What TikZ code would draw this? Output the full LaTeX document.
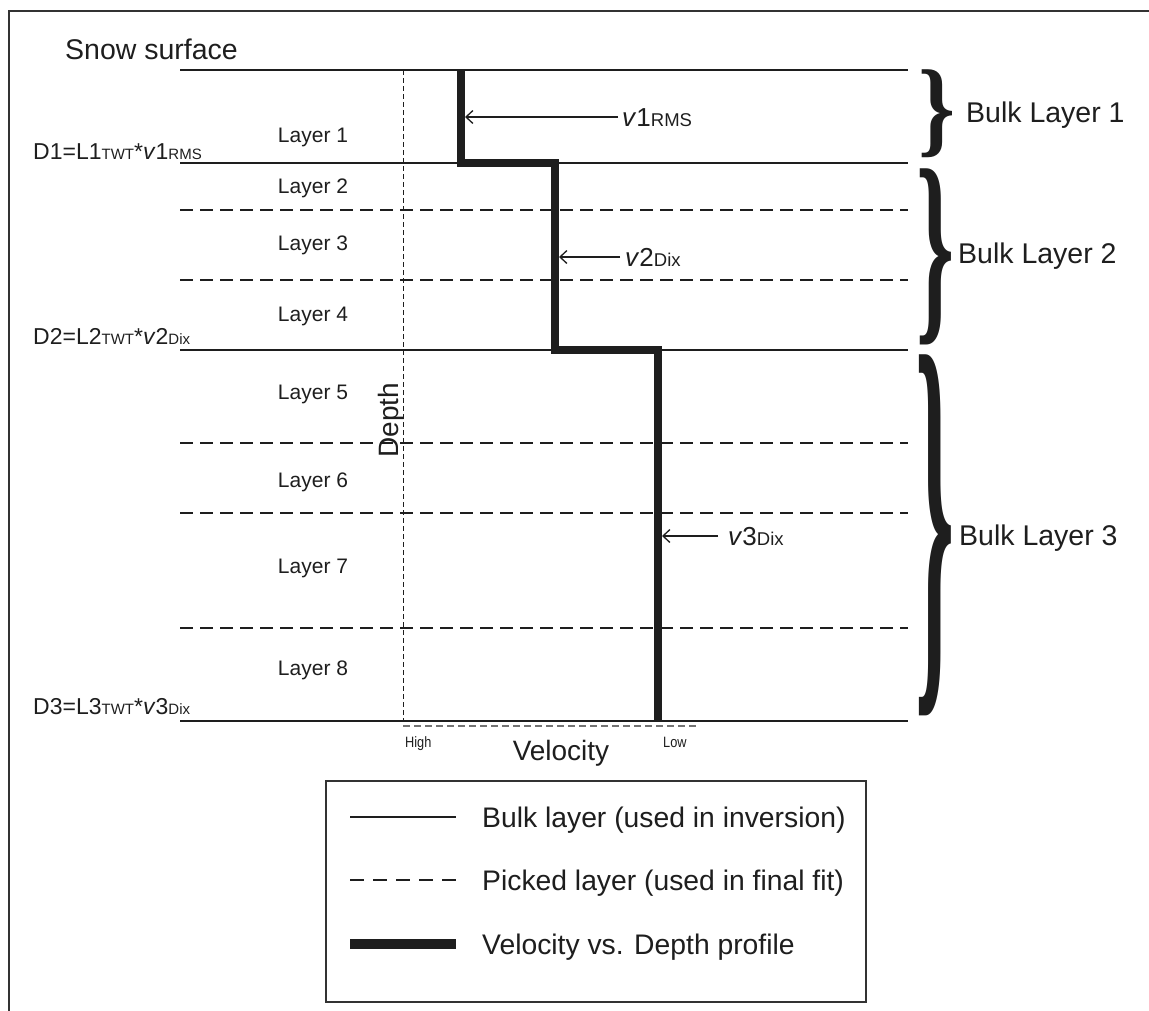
\documentclass[tikz,border=0pt]{standalone}
\usepackage{fontspec}
\setmainfont{Liberation Sans}
\newfontfamily\bracefont{Liberation Serif}
\usetikzlibrary{arrows.meta}
\newcommand\fsz[1]{\fontsize{#1}{#1}\selectfont}
\newcommand\sbt[1]{{\fsz{15}#1}}
\newcommand\bigbrace[2]{\resizebox*{#1}{#2}{\bracefont\bfseries\}}}
\definecolor{ink}{HTML}{1E1E1E}

\begin{document}
\begin{tikzpicture}[x=1pt,y=-1pt,
  every node/.style={text=ink},
  bulkline/.style={line width=2pt, draw=ink},
  pickline/.style={line width=2pt, draw=ink, dash pattern=on 13pt off 7pt},
  profile/.style={line width=8pt, draw=ink, miter limit=10},
  layerlbl/.style={inner sep=0pt, anchor=base, font=\fsz{21}},
  depthlbl/.style={inner sep=0pt, anchor=base west, font=\fsz{23}},
  vlbl/.style={inner sep=0pt, anchor=base west, font=\fsz{26}},
  bulklbl/.style={inner sep=0pt, anchor=base west, font=\fsz{28.5}},
  ptr/.style={line width=1.3pt, draw=ink, -{Straight Barb[length=7pt,width=13pt,line width=1.3pt]}},
  bracenode/.style={inner sep=0pt, anchor=west},
  legtext/.style={inner sep=0pt, anchor=base west, font=\fsz{28.3}},
]
\useasboundingbox (0,0) rectangle (1149,1010);

% frame (top and left edges)
\draw[line width=2pt, draw=black!80] (9,1012) -- (9,11) -- (1151,11);

% ---- layer boundaries ----
\coordinate (s0w) at (180,70);   \coordinate (s0e) at (908,70);
\coordinate (s1w) at (180,163);  \coordinate (s1e) at (908,163);
\coordinate (s2w) at (180,350);  \coordinate (s2e) at (908,350);
\coordinate (s3w) at (180,721);  \coordinate (s3e) at (908,721);
\coordinate (p1w) at (180,210);  \coordinate (p1e) at (908,210);
\coordinate (p2w) at (180,280);  \coordinate (p2e) at (908,280);
\coordinate (p3w) at (180,443);  \coordinate (p3e) at (908,443);
\coordinate (p4w) at (180,513);  \coordinate (p4e) at (908,513);
\coordinate (p5w) at (180,628);  \coordinate (p5e) at (908,628);

\draw[bulkline] (s0w) -- (s0e);
\draw[bulkline] (s1w) -- (s1e);
\draw[bulkline] (s2w) -- (s2e);
\draw[bulkline] (s3w) -- (s3e);
\draw[pickline] (p1w) -- (p1e);
\draw[pickline] (p2w) -- (p2e);
\draw[pickline] (p3w) -- (p3e);
\draw[pickline] (p4w) -- (p4e);
\draw[pickline] (p5w) -- (p5e);

% ---- axes ----
\coordinate (dtop) at (403,70);
\coordinate (dbot) at (403,721);
\draw[line width=1pt, draw=ink, dash pattern=on 5pt off 3pt] (dtop) -- (dbot);
\coordinate (vax0) at (403,726);
\coordinate (vax1) at (697,726);
\draw[line width=1.6pt, draw=black!55, dash pattern=on 7pt off 4pt] (vax0) -- (vax1);

\node[inner sep=0pt, rotate=90, font=\fsz{28}] (depth) at (391,420) {Depth};
\node[inner sep=0pt, anchor=base west, font=\fsz{15}] (high) at (405,747) {\scalebox{0.85}[1]{High}};
\node[inner sep=0pt, anchor=base west, font=\fsz{15}] (low) at (663,747) {\scalebox{0.85}[1]{Low}};
\node[inner sep=0pt, anchor=base, font=\fsz{28}] (vel) at (561,760) {Velocity};

% ---- velocity vs. depth profile ----
\coordinate (q0) at (461,70);
\coordinate (q1) at (461,163);
\coordinate (q2) at (555,163);
\coordinate (q3) at (555,350);
\coordinate (q4) at (658,350);
\coordinate (q5) at (658,721);
\draw[profile] (q0) -- (q1) -- (q2) -- (q3) -- (q4) -- (q5);

% ---- labels ----
\node[inner sep=0pt, anchor=base west, font=\fsz{28.5}] (snow) at (65,59) {Snow surface};

\node[layerlbl] (l1) at (313,142) {Layer 1};
\node[layerlbl] (l2) at (313,193) {Layer 2};
\node[layerlbl] (l3) at (313,250.5) {Layer 3};
\node[layerlbl] (l4) at (313,321) {Layer 4};
\node[layerlbl] (l5) at (313,399) {Layer 5};
\node[layerlbl] (l6) at (313,487.5) {Layer 6};
\node[layerlbl] (l7) at (313,573.5) {Layer 7};
\node[layerlbl] (l8) at (313,675.5) {Layer 8};

\node[depthlbl] (d1) at (33,159) {D1=L1\sbt{TWT}*\textit{v}1\sbt{RMS}};
\node[depthlbl] (d2) at (33,344) {D2=L2\sbt{TWT}*\textit{v}2\sbt{Dix}};
\node[depthlbl] (d3) at (33,714) {D3=L3\sbt{TWT}*\textit{v}3\sbt{Dix}};

% velocity pointers
\node[vlbl] (v1) at (622,126) {\textit{v}1{\fsz{18.5}RMS}};
\node[vlbl] (v2) at (625,266) {\textit{v}2{\fsz{18.5}Dix}};
\node[vlbl] (v3) at (728,545) {\textit{v}3{\fsz{18.5}Dix}};
\coordinate (v1s) at (618,117); \coordinate (v1t) at (465,117);
\coordinate (v2s) at (620,257); \coordinate (v2t) at (559,257);
\coordinate (v3s) at (718,536); \coordinate (v3t) at (662,536);
\draw[ptr] (v1s) -- (v1t);
\draw[ptr] (v2s) -- (v2t);
\draw[ptr] (v3s) -- (v3t);

% ---- bulk layer braces ----
\node[bracenode] (br1) at (918,114) {\bigbrace{37pt}{88pt}};
\node[bracenode] (br2) at (916,256.5) {\bigbrace{38pt}{176pt}};
\node[bracenode] (br3) at (915,535.5) {\bigbrace{39pt}{360pt}};
\node[bulklbl] (bl1) at (966,122) {Bulk Layer 1};
\node[bulklbl] (bl2) at (958,263) {Bulk Layer 2};
\node[bulklbl] (bl3) at (959,545) {Bulk Layer 3};

% ---- legend ----
\node[draw=black!80, line width=2pt, fill=white, minimum width=540pt, minimum height=221pt,
      anchor=north west, inner sep=0pt] (legend) at (325,780) {};
\coordinate (k1a) at (350,817); \coordinate (k1b) at (456,817);
\coordinate (k2a) at (350,880); \coordinate (k2b) at (456,880);
\coordinate (k3a) at (350,944); \coordinate (k3b) at (456,944);
\draw[bulkline] (k1a) -- (k1b);
\draw[line width=2pt, draw=ink, dash pattern=on 14pt off 9pt] (k2a) -- (k2b);
\draw[line width=10pt, draw=ink] (k3a) -- (k3b);
\node[legtext] (t1) at (482,827) {Bulk layer (used in inversion)};
\node[legtext] (t2) at (482,890) {Picked layer (used in final fit)};
\node[legtext] (t3) at (482,954) {Velocity vs. Depth profile};
\end{tikzpicture}
\end{document}
